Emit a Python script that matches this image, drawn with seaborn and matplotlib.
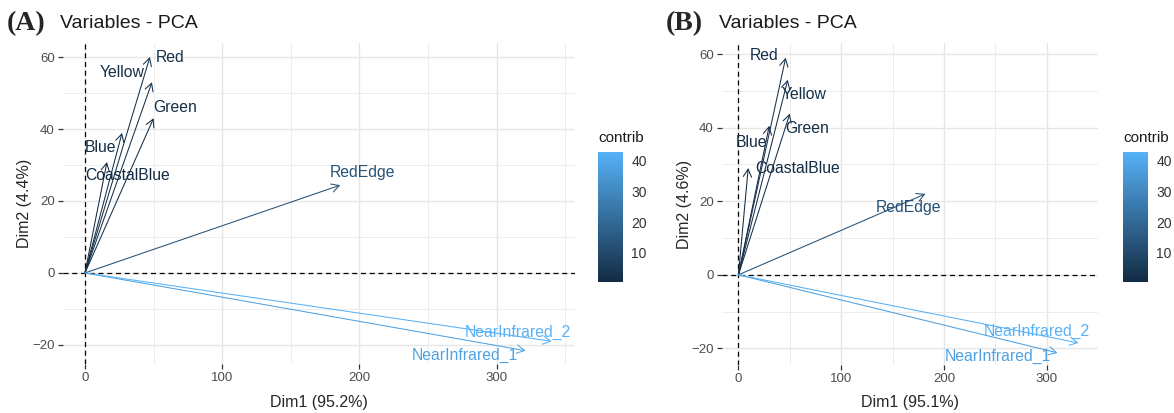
# PCA variable plots (two panels) - factoextra style
import numpy as np
import pandas as pd
import matplotlib
matplotlib.use("Agg")
import matplotlib.pyplot as plt
import seaborn as sns
from matplotlib.colors import LinearSegmentedColormap, Normalize
from matplotlib.cm import ScalarMappable

variables = ["CoastalBlue", "Blue", "Green", "Yellow", "Red",
             "RedEdge", "NearInfrared_1", "NearInfrared_2"]

# panel A
dim1_a = [16, 27, 50, 48.8, 47.3, 186, 321, 340]
dim2_a = [30.8, 38.9, 43, 53, 60, 24.4, -21.6, -19]
contrib_a = [0.55, 0.8, 1.5, 1.8, 2.1, 12.6, 38.0, 42.9]
labx_a = [31, 11.3, 65.6, 27.3, 62, 202, 277, 315]
laby_a = [27.2, 35, 46, 55.6, 60, 27.8, -22.8, -16.4]

# panel B
dim1_b = [9.5, 30, 50, 48, 46, 182, 310.6, 331]
dim2_b = [29, 40.5, 43.8, 53, 59, 22, -21.2, -18.5]
contrib_b = [0.5, 0.95, 1.7, 2.0, 2.2, 12.0, 37.5, 42.8]
labx_b = [58, 13, 66.5, 64, 25, 166, 253, 290]
laby_b = [28.8, 36, 39.7, 49, 59.5, 18.2, -22.3, -15.5]

sns.set_theme(style="white")
plt.rcParams['font.family'] = ['Liberation Sans', 'DejaVu Sans']

W, H = 1174, 413
fig = plt.figure(figsize=(W / 100, H / 100), dpi=100)
cmap = LinearSegmentedColormap.from_list("contrib", ["#132B43", "#56B1F7"])


def px(x, y, w, h):
    return [x / W, 1 - (y + h) / H, w / W, h / H]


def panel(box, cbox, xlim, ylim, d1, d2, contrib, lx, ly, tag, xlab, ylab):
    df = pd.DataFrame({"var": variables, "x": d1, "y": d2, "contrib": contrib,
                       "lx": lx, "ly": ly})
    norm = Normalize(df.contrib.min(), df.contrib.max())
    ax = fig.add_axes(px(*box))
    sns.despine(ax=ax, left=True, bottom=True)
    ax.set_xlim(*xlim)
    ax.set_ylim(*ylim)
    ax.set_xticks([0, 100, 200, 300])
    ax.set_xticks([50, 150, 250, 350], minor=True)
    ax.set_yticks([-20, 0, 20, 40, 60])
    ax.set_yticks([-10, 10, 30, 50], minor=True)
    ax.grid(which='major', color='#E6E6E6', lw=1.0)
    ax.grid(which='minor', color='#EDEDED', lw=0.7)
    ax.set_axisbelow(True)
    ax.tick_params(which='major', length=3.5, width=0.9, color='#333333',
                   labelcolor='#4D4D4D', labelsize=9.5, pad=2.5,
                   bottom=True, left=True)
    ax.tick_params(which='minor', length=0)
    ax.axhline(0, color='black', ls='--', lw=0.9, dashes=(4, 3))
    ax.axvline(0, color='black', ls='--', lw=0.9, dashes=(4, 3))
    for _, r in df.iterrows():
        c = cmap(norm(r["contrib"]))
        ax.annotate("", xy=(r["x"], r["y"]), xytext=(0, 0),
                    arrowprops=dict(arrowstyle="->,head_length=0.55,head_width=0.3",
                                    color=c, lw=0.75, shrinkA=0, shrinkB=0,
                                    mutation_scale=10))
        ax.text(r["lx"], r["ly"], r["var"], color=c, fontsize=11.3,
                ha='center', va='center')

    cax = fig.add_axes(px(*cbox))
    cb = fig.colorbar(ScalarMappable(norm=norm, cmap=cmap), cax=cax,
                      ticks=[10, 20, 30, 40])
    cb.outline.set_visible(False)
    cax.tick_params(which='both', direction='in', color='white', length=4,
                    width=0.8, left=True, right=True, labelsize=10,
                    labelcolor='#333333', pad=6)
    cax.minorticks_off()

    x0, y0, w, h = box
    fig.text(cbox[0] / W, 1 - 138 / H, "contrib", fontsize=11,
             ha='left', va='center', color='#1A1A1A')
    fig.text((x0 + w / 2) / W, 1 - 402 / H, xlab, fontsize=11.5,
             ha='center', va='center')
    fig.text((x0 - 38) / W, 1 - (y0 + h / 2) / H, ylab, fontsize=11.5,
             ha='center', va='center', rotation=90)
    fig.text((x0 - 56) / W, 1 - 24 / H, tag, fontsize=20, fontweight='bold',
             family='Liberation Serif', ha='left', va='center')
    fig.text((x0 - 3) / W, 1 - 24 / H, "Variables - PCA", fontsize=14,
             ha='left', va='center', color='#1A1A1A')


panel((63, 43, 512, 321), (598, 152, 25, 130), (-16, 357), (-25.3, 63.9),
      dim1_a, dim2_a, contrib_a, labx_a, laby_a,
      "(A)", "Dim1 (95.2%)", "Dim2 (4.4%)")
panel((722, 43, 376, 322), (1123, 152, 25, 130), (-16, 345), (-24.5, 63),
      dim1_b, dim2_b, contrib_b, labx_b, laby_b,
      "(B)", "Dim1 (95.1%)", "Dim2 (4.6%)")

fig.savefig("out.png", dpi=100)
